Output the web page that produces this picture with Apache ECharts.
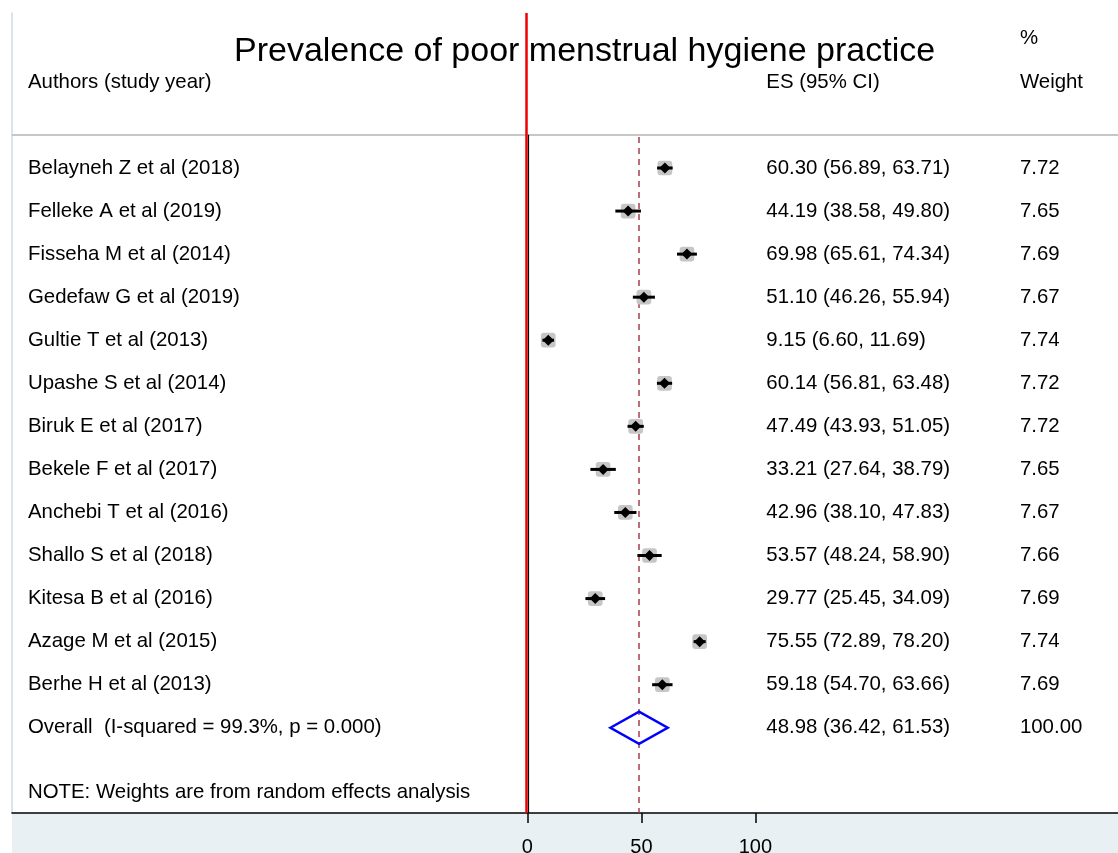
<!DOCTYPE html>
<html>
<head>
<meta charset="utf-8">
<script src="https://cdn.jsdelivr.net/npm/echarts@6/dist/echarts.min.js"></script>
<style>
html,body{margin:0;padding:0;background:#fff;}
#chart{width:1118px;height:853px;}
</style>
</head>
<body>
<div id="chart"></div>
<script>
// ---------- data ----------
const studies = [
  "Belayneh Z et al (2018)", "Felleke A et al (2019)", "Fisseha M et al (2014)",
  "Gedefaw G et al (2019)", "Gultie T et al (2013)", "Upashe S et al (2014)",
  "Biruk E et al (2017)", "Bekele F et al (2017)", "Anchebi T et al (2016)",
  "Shallo S et al (2018)", "Kitesa B et al (2016)", "Azage M et al (2015)",
  "Berhe H et al (2013)"
];
const es      = [60.30, 44.19, 69.98, 51.10, 9.15, 60.14, 47.49, 33.21, 42.96, 53.57, 29.77, 75.55, 59.18];
const lower   = [56.89, 38.58, 65.61, 46.26, 6.60, 56.81, 43.93, 27.64, 38.10, 48.24, 25.45, 72.89, 54.70];
const upper   = [63.71, 49.80, 74.34, 55.94, 11.69, 63.48, 51.05, 38.79, 47.83, 58.90, 34.09, 78.20, 63.66];
const weights = [7.72, 7.65, 7.69, 7.67, 7.74, 7.72, 7.72, 7.65, 7.67, 7.66, 7.69, 7.74, 7.69];
const overallLabel = "Overall  (I-squared = 99.3%, p = 0.000)";
const overallES = 48.98, overallLower = 36.42, overallUpper = 61.53, overallWeight = 100.00;
const noteText = "NOTE: Weights are from random effects analysis";
const titleText = "Prevalence of poor menstrual hygiene practice";
const headerAuthors = "Authors (study year)";
const headerES = "ES (95% CI)";
const headerPct = "%";
const headerWeight = "Weight";
const xTicks = [0, 50, 100];

// ---------- layout (positions in axis units) ----------
const X_MIN = -226, X_MAX = 259;
const Y_MIN = -3.6, Y_MAX = 14.98;
const COL_LABEL = -219, COL_ES = 104.8, COL_W = 216;
const ROW_HEADER = -2.0, ROW_PCT = -3.0, ROW_SEP = -0.77;
const ROW_OVERALL = studies.length, ROW_NOTE = studies.length + 1.5;
const FONT = "Liberation Sans, Arial, sans-serif";

const fmt = v => v.toFixed(2);

const textRows = [];
textRows.push([COL_LABEL, ROW_HEADER, headerAuthors]);
textRows.push([COL_ES, ROW_HEADER, headerES]);
textRows.push([COL_W, ROW_PCT, headerPct]);
textRows.push([COL_W, ROW_HEADER, headerWeight]);
studies.forEach((s, i) => {
  textRows.push([COL_LABEL, i, s]);
  textRows.push([COL_ES, i, fmt(es[i]) + " (" + fmt(lower[i]) + ", " + fmt(upper[i]) + ")"]);
  textRows.push([COL_W, i, fmt(weights[i])]);
});
textRows.push([COL_LABEL, ROW_OVERALL, overallLabel]);
textRows.push([COL_ES, ROW_OVERALL, fmt(overallES) + " (" + fmt(overallLower) + ", " + fmt(overallUpper) + ")"]);
textRows.push([COL_W, ROW_OVERALL, fmt(overallWeight)]);
textRows.push([COL_LABEL, ROW_NOTE, noteText]);

const chart = echarts.init(document.getElementById('chart'), null, {renderer: 'canvas'});

const option = {
  animation: false,
  backgroundColor: '#fff',
  title: {
    text: titleText,
    left: 229, top: 30,
    textStyle: {fontSize: 34, fontWeight: 'normal', color: '#000', fontFamily: FONT}
  },
  graphic: [{
    type: 'rect', left: 12, top: 813, z: -10,
    shape: {width: 1106, height: 40},
    style: {fill: '#e8f0f3'}
  }],
  grid: {left: 12, right: 0, top: 13, bottom: 40, containLabel: false, outerBoundsMode: 'none'},
  xAxis: {
    type: 'value', min: X_MIN, max: X_MAX,
    axisLine: {show: true, onZero: false, lineStyle: {color: '#000', width: 1.5}},
    axisTick: {show: true, customValues: xTicks, length: 10, lineStyle: {color: '#000', width: 1.5}},
    axisLabel: {show: true, customValues: xTicks, fontSize: 20, color: '#000', fontFamily: FONT, margin: 24},
    splitLine: {show: false}
  },
  yAxis: {
    type: 'value', inverse: true, min: Y_MIN, max: Y_MAX,
    axisLine: {show: true, onZero: false, lineStyle: {color: '#cddce3', width: 1.5}},
    axisTick: {show: false}, axisLabel: {show: false}, splitLine: {show: false}
  },
  series: [
    {
      // reference lines
      type: 'line', data: [], silent: true,
      markLine: {
        symbol: 'none', silent: true, label: {show: false}, animation: false,
        data: [
          [{coord: [X_MIN, ROW_SEP], lineStyle: {color: '#b4b4b4', width: 1.5, type: 'solid'}}, {coord: [X_MAX, ROW_SEP]}],
          [{coord: [-0.5, Y_MIN], lineStyle: {color: '#ee0000', width: 2.5, type: 'solid'}}, {coord: [-0.5, Y_MAX]}],
          [{coord: [0.6, ROW_SEP], lineStyle: {color: '#000', width: 1.2, type: 'solid'}}, {coord: [0.6, Y_MAX]}],
          [{coord: [overallES, ROW_SEP + 0.05], lineStyle: {color: '#a8404e', width: 1.5, type: [6, 5]}}, {coord: [overallES, Y_MAX]}]
        ]
      }
    },
    {
      // study estimates
      type: 'custom',
      data: studies.map((s, i) => [i, es[i], lower[i], upper[i], weights[i]]),
      renderItem: function (params, api) {
        const row = api.value(0);
        const c = api.coord([api.value(1), row]);
        const l = api.coord([api.value(2), row]);
        const h = api.coord([api.value(3), row]);
        const side = 5.3 * Math.sqrt(api.value(4));
        const d = 5.5;
        return {
          type: 'group',
          children: [
            {type: 'rect', shape: {x: c[0] - side / 2, y: c[1] - side / 2, width: side, height: side, r: 3},
             style: {fill: '#c6c6c6'}},
            {type: 'line', shape: {x1: l[0], y1: l[1], x2: h[0], y2: h[1]},
             style: {stroke: '#000', lineWidth: 3}},
            {type: 'polygon', shape: {points: [[c[0], c[1] - d], [c[0] + d, c[1]], [c[0], c[1] + d], [c[0] - d, c[1]]]},
             style: {fill: '#000'}}
          ]
        };
      },
      z: 5
    },
    {
      // overall diamond
      type: 'custom',
      data: [[ROW_OVERALL, overallES, overallLower, overallUpper]],
      renderItem: function (params, api) {
        const row = api.value(0);
        const c = api.coord([api.value(1), row]);
        const l = api.coord([api.value(2), row]);
        const h = api.coord([api.value(3), row]);
        const hh = 16;
        return {
          type: 'polygon',
          shape: {points: [[l[0], l[1]], [c[0], c[1] - hh], [h[0], h[1]], [c[0], c[1] + hh]]},
          style: {fill: 'none', stroke: '#0000ff', lineWidth: 2.5}
        };
      },
      z: 5
    },
    {
      // text columns
      type: 'custom',
      data: textRows,
      renderItem: function (params, api) {
        const p = api.coord([api.value(0), api.value(1)]);
        return {
          type: 'text',
          x: p[0], y: p[1],
          style: {
            text: textRows[params.dataIndex][2],
            fill: '#000',
            font: '20.4px ' + FONT,
            textAlign: 'left',
            textVerticalAlign: 'middle'
          }
        };
      },
      z: 6
    }
  ]
};
chart.setOption(option);
</script>
</body>
</html>
